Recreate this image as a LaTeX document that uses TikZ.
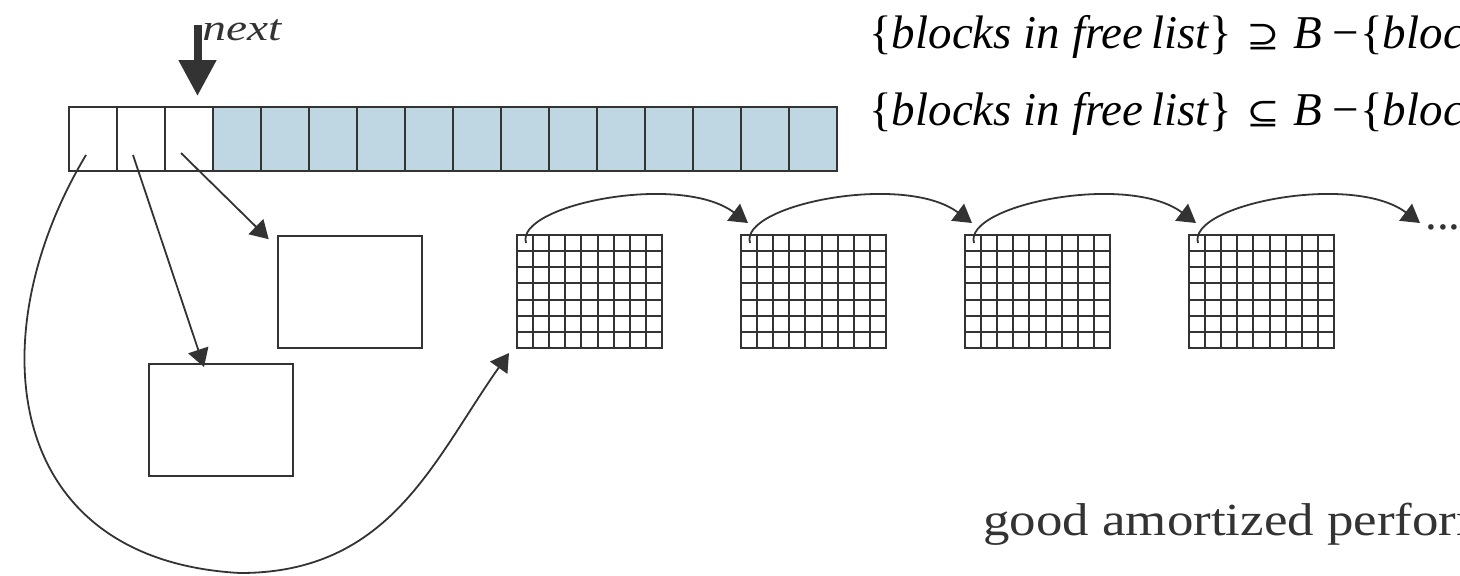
\documentclass[tikz,border=0pt]{standalone}
\usepackage{graphicx}
\usepackage{fontspec}
\setmainfont{Liberation Serif}
\newfontfamily\relfont{DejaVu Serif}
\usetikzlibrary{arrows.meta,calc}
\definecolor{ink}{HTML}{333333}
\definecolor{slot}{HTML}{BFD7E3}
\begin{document}
\begin{tikzpicture}[x=0.5pt,y=-0.5pt,
  ln/.style={draw=ink,line width=1pt},
  cellbox/.style={ln,rectangle,inner sep=0pt,outer sep=0pt,
    minimum width=24pt,minimum height=32pt,anchor=north west},
  bigbox/.style={ln,rectangle,inner sep=0pt,outer sep=0pt,
    minimum width=72.5pt,minimum height=56.5pt,anchor=north west},
  link/.style={draw=ink,line width=0.9pt,-{Triangle[length=9pt,width=10.5pt]}},
  eq/.style={inner sep=0pt,anchor=base west,font=\fontsize{23.5}{28}\selectfont},
  rel/.style={inner sep=0pt,anchor=base west,font=\relfont\fontsize{16.5}{18}\selectfont}]
\clip (0,0) rectangle (1460,575);

% the block table: three used slots, the rest still free
\foreach \i in {1,...,16} {
  \pgfmathsetmacro\xx{69+(\i-1)*48}
  \ifnum\i<4 \def\fc{white}\else\def\fc{slot}\fi
  \node[cellbox,fill=\fc] (c\i) at (\xx,107) {};
}

% the "next" pointer
\coordinate (nx0) at (197.5,25);
\coordinate (nx1) at ($(c3.north)+(8.5,-11)$);
\draw[ink,line width=4pt,-{Triangle[length=18pt,width=18pt]}] (nx0) -- (nx1);
\node[inner sep=0pt,anchor=base west,text=ink,font=\fontsize{18.5}{20}\selectfont]
  (nextlbl) at (202,40) {\scalebox{1.28}[1]{\textit{next}}};

% plain blocks
\node[bigbox,minimum width=72pt,minimum height=56pt] (boxA) at (277.7,235.7) {};
\node[bigbox,minimum width=72pt,minimum height=56pt] (boxB) at (149,363.7) {};

% blocks split into records
\foreach \gx [count=\n] in {517,741,965,1189} {
  \node[bigbox] (g\n) at (\gx,235) {};
  \foreach \k in {1,...,8}
    \draw[ln] ($(g\n.north west)!\k/9!(g\n.north east)$) -- ($(g\n.south west)!\k/9!(g\n.south east)$);
  \foreach \k in {1,...,6}
    \draw[ln] ($(g\n.north west)!\k/7!(g\n.south west)$) -- ($(g\n.north east)!\k/7!(g\n.south east)$);
}

% free-list links between the split blocks
\node[inner sep=0pt,anchor=base west,text=ink,font=\fontsize{23.5}{28}\selectfont]
  (dots) at (1425,229) {...};
\foreach \n/\m in {1/2,2/3,3/4} {
  \coordinate (s\n) at ($(g\n.north west)+(9,8)$);
  \coordinate (t\n) at ($(g\m.north west)+(7,-12)$);
  \draw[link] (s\n) .. controls +(-11,-38) and +(-68,-51) .. (t\n);
}
\coordinate (s4) at ($(g4.north west)+(9,8)$);
\coordinate (t4) at ($(dots.base west)+(-5,-6)$);
\draw[link] (s4) .. controls +(-11,-38) and +(-68,-51) .. (t4);

% pointers from the table slots to their blocks
\coordinate (p1) at ($(c1.south west)+(17,-16)$);
\coordinate (p2) at ($(c2.south west)+(16,-16)$);
\coordinate (p3) at ($(c3.south west)+(16,-18)$);
\coordinate (a3) at ($(boxA.north west)+(-9,3.5)$);
\coordinate (b2) at ($(boxB.north west)+(55,3.3)$);
\coordinate (h1) at ($(g1.south west)+(-8,5)$);
\draw[link] (p3) -- (a3);
\draw[link] (p2) -- (b2);
\draw[link] (p1) .. controls (-22,335) and (2,560) .. (240,573)
                 .. controls (390,573) and (433,461) .. (h1);

% invariants
\node[eq] (la) at (869,48) {\{\textit{blocks in free\,list}\}};
\node[rel] (ra) at (1246,47.5) {\scalebox{1.2}[1]{⊇}};
\node[eq] (ba) at (1293,48) {\textit{B}};
\node[eq] (ma) at (1331.6,48) {−};
\node[eq] (ka) at (1360,48) {\{\textit{bloc}};

\node[eq] (lb) at (869,125) {\{\textit{blocks in free\,list}\}};
\node[rel] (rb) at (1246,124.5) {\scalebox{1.2}[1]{⊆}};
\node[eq] (bb) at (1293,125) {\textit{B}};
\node[eq] (mb) at (1331.6,125) {−};
\node[eq] (kb) at (1360,125) {\{\textit{bloc}};

% remark
\node[inner sep=0pt,anchor=base west,text=ink,font=\fontsize{23}{28}\selectfont]
  (perf) at (983,535) {\scalebox{1.15}[1]{good amortized perform}};
\end{tikzpicture}
\end{document}
